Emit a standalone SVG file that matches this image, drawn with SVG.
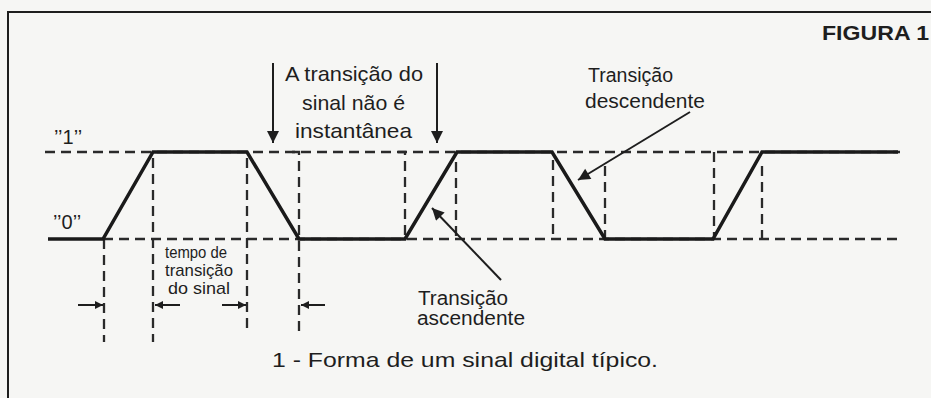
<svg xmlns="http://www.w3.org/2000/svg" width="931" height="398" viewBox="0 0 931 398">
<defs>
<style>
.t{font-family:"Liberation Sans",Arial,sans-serif;fill:#1e1e1e}
.wave{fill:none;stroke:#1a1a1a;stroke-width:3.5;stroke-linejoin:miter}
.dash{fill:none;stroke:#2a2a2a;stroke-width:2.3;stroke-dasharray:10 6}
.arr{fill:none;stroke:#1e1e1e;stroke-width:2}
.frame{fill:none;stroke:#1e1e1e;stroke-width:2}
</style>
<marker id="ah" viewBox="0 0 10 10" refX="10" refY="5" markerWidth="10" markerHeight="8" markerUnits="userSpaceOnUse" orient="auto">
<path d="M0,0 L10,5 L0,10 z" fill="#1e1e1e"/>
</marker>
<marker id="ahL" viewBox="0 0 10 10" refX="10" refY="5" markerWidth="14" markerHeight="12" markerUnits="userSpaceOnUse" orient="auto">
<path d="M0,0 L10,5 L0,10 z" fill="#1e1e1e"/>
</marker>
</defs>
<rect x="0" y="0" width="931" height="398" fill="#f6f6f4"/>
<g id="frame">
<path class="frame" d="M931,12 L8,12 L8,398"/>
</g>
<g id="title">
<text class="t" x="822" y="40" font-size="21" font-weight="bold" textLength="107" lengthAdjust="spacingAndGlyphs">FIGURA 1</text>
</g>
<g id="levels">
<line class="dash" x1="45" y1="152" x2="900" y2="152"/>
<line class="dash" x1="103" y1="239" x2="900" y2="239"/>
<text class="t" x="54" y="144" font-size="20">’’1’’</text>
<text class="t" x="53" y="229" font-size="20">’’0’’</text>
</g>
<g id="guides">
<line class="dash" x1="104" y1="239" x2="104" y2="342"/>
<line class="dash" x1="153" y1="158" x2="153" y2="342"/>
<line class="dash" x1="247" y1="158" x2="247" y2="333"/>
<path class="dash" d="M292,152 L299,152 L299,331"/>
<path class="dash" d="M398,152 L405,152 L405,239"/>
<line class="dash" x1="456" y1="162" x2="456" y2="239"/>
<line class="dash" x1="553" y1="160" x2="553" y2="239"/>
<line class="dash" x1="605" y1="166" x2="605" y2="239"/>
<line class="dash" x1="714" y1="152" x2="714" y2="239"/>
<line class="dash" x1="762" y1="166" x2="762" y2="239"/>
</g>
<g id="signal">
<polyline class="wave" points="48,239 103,239 153,152 247,152 299,239 405,239 457,152 552,152 605,239 713,239 762,152 898,152"/>
</g>
<g id="connectors">
<line class="arr" x1="273" y1="63" x2="273" y2="143" marker-end="url(#ahL)"/>
<line class="arr" x1="437" y1="63" x2="437" y2="143" marker-end="url(#ahL)"/>
<line class="arr" x1="78" y1="305" x2="103" y2="305" marker-end="url(#ah)"/>
<line class="arr" x1="180" y1="305" x2="155" y2="305" marker-end="url(#ah)"/>
<line class="arr" x1="222" y1="305" x2="246" y2="305" marker-end="url(#ah)"/>
<line class="arr" x1="325" y1="305" x2="301" y2="305" marker-end="url(#ah)"/>
<line class="arr" x1="690" y1="112" x2="578" y2="180" marker-end="url(#ahL)"/>
<line class="arr" x1="501" y1="280" x2="432" y2="208" marker-end="url(#ahL)"/>
</g>
<g id="label-instant">
<text class="t" x="285" y="81" font-size="21" textLength="138" lengthAdjust="spacingAndGlyphs">A transição do</text>
<text class="t" x="302" y="110" font-size="21" textLength="103" lengthAdjust="spacingAndGlyphs">sinal não é</text>
<text class="t" x="295" y="138" font-size="21" textLength="117" lengthAdjust="spacingAndGlyphs">instantânea</text>
</g>
<g id="label-tempo">
<text class="t" x="165" y="258" font-size="17" textLength="62" lengthAdjust="spacingAndGlyphs">tempo de</text>
<text class="t" x="165" y="276" font-size="17" textLength="68" lengthAdjust="spacingAndGlyphs">transição</text>
<text class="t" x="168" y="294" font-size="17" textLength="62" lengthAdjust="spacingAndGlyphs">do sinal</text>
</g>
<g id="label-desc">
<text class="t" x="588" y="82" font-size="20" textLength="85" lengthAdjust="spacingAndGlyphs">Transição</text>
<text class="t" x="585" y="108" font-size="20" textLength="120" lengthAdjust="spacingAndGlyphs">descendente</text>
</g>
<g id="label-asc">
<text class="t" x="418" y="305" font-size="20" textLength="90" lengthAdjust="spacingAndGlyphs">Transição</text>
<text class="t" x="417" y="325" font-size="20" textLength="108" lengthAdjust="spacingAndGlyphs">ascendente</text>
</g>
<g id="caption">
<text class="t" x="272" y="367" font-size="21" textLength="386" lengthAdjust="spacingAndGlyphs">1 - Forma de um sinal digital típico.</text>
</g>
</svg>
